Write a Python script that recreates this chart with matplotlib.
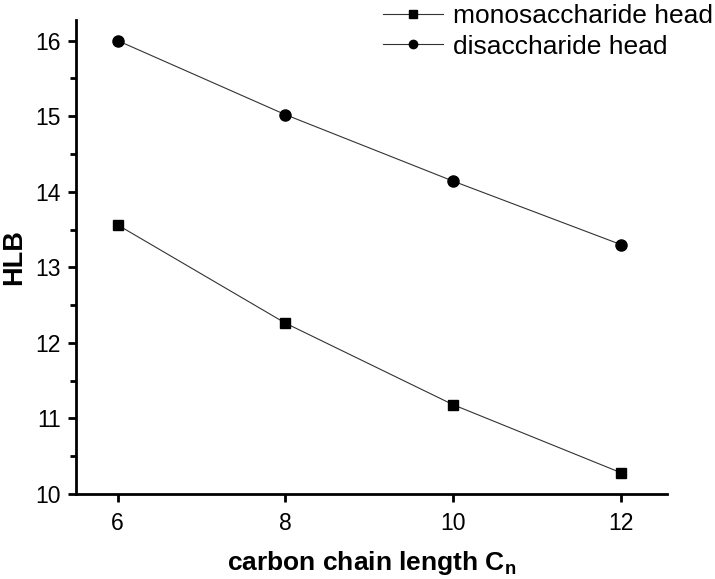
import matplotlib.pyplot as plt
from matplotlib.ticker import MultipleLocator

plt.rcParams['font.family'] = ['Liberation Sans', 'DejaVu Sans']

chain_length = [6, 8, 10, 12]
mono_hlb = [13.56, 12.26, 11.18, 10.28]
di_hlb = [16.0, 15.02, 14.14, 13.30]

fig = plt.figure(figsize=(7.15, 5.79), dpi=100)
ax = fig.add_axes([0.106, 0.147, 0.827, 0.818])

ax.plot(chain_length, mono_hlb, color='#333333', lw=0.8, marker='s', ms=7.2,
        mfc='black', mec='black', label='monosaccharide head')
ax.plot(chain_length, di_hlb, color='#333333', lw=0.8, marker='o', ms=8,
        mfc='black', mec='black', label='disaccharide head')

ax.set_xlim(5.5, 12.55)
ax.set_ylim(10, 16.27)
ax.set_xticks(chain_length)
ax.yaxis.set_major_locator(MultipleLocator(1))
ax.yaxis.set_minor_locator(MultipleLocator(0.5))

for s in ['top', 'right']:
    ax.spines[s].set_visible(False)
for s in ['left', 'bottom']:
    ax.spines[s].set_linewidth(2)
ax.tick_params(which='major', length=6, width=2, labelsize=16.5, direction='out')
ax.tick_params(axis='x', which='major', pad=7)
ax.tick_params(axis='y', which='major', pad=5)
ax.tick_params(which='minor', length=4, width=2, direction='out')

ax.set_xlabel('carbon chain length C$_\\mathregular{n}$', fontsize=19,
              fontweight='bold', labelpad=10)
ax.set_ylabel('HLB', fontsize=19.5, fontweight='bold', labelpad=6)

fig.legend(loc='upper left', bbox_to_anchor=(0.536, 0.993), frameon=False,
           borderpad=0, borderaxespad=0, fontsize=19, handlelength=2.25,
           handletextpad=0.4, labelspacing=0.25, markerscale=0.75)

fig.savefig('out.png', dpi=100)
